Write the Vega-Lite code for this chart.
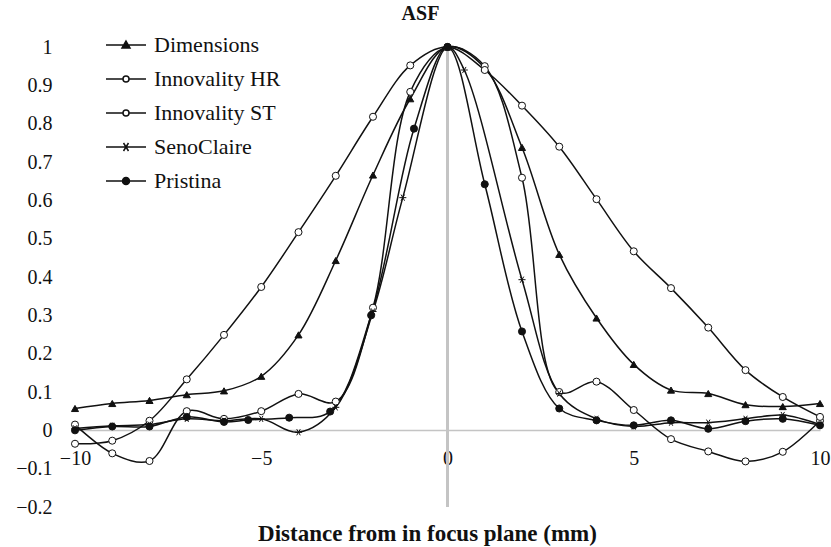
{
  "$schema": "https://vega.github.io/schema/vega-lite/v6.json",
  "width": 745,
  "height": 460,
  "autosize": {"type": "none"},
  "padding": {"left": 75, "top": 47, "right": 11, "bottom": 40},
  "background": "white",
  "config": {"view": {"stroke": null}, "font": "Liberation Serif"},
  "title": {"text": "ASF", "font": "Liberation Serif", "fontSize": 20, "fontWeight": "bold", "color": "#111", "frame": "group", "anchor": "middle", "dx": -27, "dy": 25, "offset": 19, "baseline": "alphabetic"},
  "data": {"values": [
    {"s": "Dimensions", "x": -10, "y": 0.057}, {"s": "Dimensions", "x": -9, "y": 0.07}, {"s": "Dimensions", "x": -8, "y": 0.078}, {"s": "Dimensions", "x": -7, "y": 0.093}, {"s": "Dimensions", "x": -6, "y": 0.103}, {"s": "Dimensions", "x": -5, "y": 0.141}, {"s": "Dimensions", "x": -4, "y": 0.249}, {"s": "Dimensions", "x": -3, "y": 0.443}, {"s": "Dimensions", "x": -2, "y": 0.666}, {"s": "Dimensions", "x": -1, "y": 0.865}, {"s": "Dimensions", "x": 0, "y": 1.0}, {"s": "Dimensions", "x": 1, "y": 0.945}, {"s": "Dimensions", "x": 2, "y": 0.738}, {"s": "Dimensions", "x": 3, "y": 0.459}, {"s": "Dimensions", "x": 4, "y": 0.293}, {"s": "Dimensions", "x": 5, "y": 0.172}, {"s": "Dimensions", "x": 6, "y": 0.105}, {"s": "Dimensions", "x": 7, "y": 0.096}, {"s": "Dimensions", "x": 8, "y": 0.067}, {"s": "Dimensions", "x": 9, "y": 0.062}, {"s": "Dimensions", "x": 10, "y": 0.07},
    {"s": "Innovality HR", "x": -10, "y": 0.015}, {"s": "Innovality HR", "x": -9, "y": -0.06}, {"s": "Innovality HR", "x": -8, "y": -0.08}, {"s": "Innovality HR", "x": -7, "y": 0.05}, {"s": "Innovality HR", "x": -6, "y": 0.03}, {"s": "Innovality HR", "x": -5, "y": 0.05}, {"s": "Innovality HR", "x": -4, "y": 0.095}, {"s": "Innovality HR", "x": -3, "y": 0.075}, {"s": "Innovality HR", "x": -2, "y": 0.32}, {"s": "Innovality HR", "x": -1, "y": 0.883}, {"s": "Innovality HR", "x": 0, "y": 1.0}, {"s": "Innovality HR", "x": 1, "y": 0.95}, {"s": "Innovality HR", "x": 2, "y": 0.659}, {"s": "Innovality HR", "x": 3, "y": 0.1}, {"s": "Innovality HR", "x": 4, "y": 0.127}, {"s": "Innovality HR", "x": 5, "y": 0.053}, {"s": "Innovality HR", "x": 6, "y": -0.023}, {"s": "Innovality HR", "x": 7, "y": -0.055}, {"s": "Innovality HR", "x": 8, "y": -0.081}, {"s": "Innovality HR", "x": 9, "y": -0.056}, {"s": "Innovality HR", "x": 10, "y": 0.025},
    {"s": "Innovality ST", "x": -10, "y": -0.035}, {"s": "Innovality ST", "x": -9, "y": -0.027}, {"s": "Innovality ST", "x": -8, "y": 0.025}, {"s": "Innovality ST", "x": -7, "y": 0.133}, {"s": "Innovality ST", "x": -6, "y": 0.249}, {"s": "Innovality ST", "x": -5, "y": 0.374}, {"s": "Innovality ST", "x": -4, "y": 0.517}, {"s": "Innovality ST", "x": -3, "y": 0.664}, {"s": "Innovality ST", "x": -2, "y": 0.818}, {"s": "Innovality ST", "x": -1, "y": 0.952}, {"s": "Innovality ST", "x": 0, "y": 1.0}, {"s": "Innovality ST", "x": 1, "y": 0.94}, {"s": "Innovality ST", "x": 2, "y": 0.847}, {"s": "Innovality ST", "x": 3, "y": 0.74}, {"s": "Innovality ST", "x": 4, "y": 0.603}, {"s": "Innovality ST", "x": 5, "y": 0.467}, {"s": "Innovality ST", "x": 6, "y": 0.371}, {"s": "Innovality ST", "x": 7, "y": 0.268}, {"s": "Innovality ST", "x": 8, "y": 0.157}, {"s": "Innovality ST", "x": 9, "y": 0.087}, {"s": "Innovality ST", "x": 10, "y": 0.035},
    {"s": "SenoClaire", "x": -10, "y": 0.005}, {"s": "SenoClaire", "x": -9, "y": 0.012}, {"s": "SenoClaire", "x": -8, "y": 0.015}, {"s": "SenoClaire", "x": -7, "y": 0.03}, {"s": "SenoClaire", "x": -6, "y": 0.025}, {"s": "SenoClaire", "x": -5, "y": 0.03}, {"s": "SenoClaire", "x": -4, "y": -0.005}, {"s": "SenoClaire", "x": -3, "y": 0.06}, {"s": "SenoClaire", "x": -2, "y": 0.31}, {"s": "SenoClaire", "x": -1.2, "y": 0.607}, {"s": "SenoClaire", "x": 0, "y": 1.0}, {"s": "SenoClaire", "x": 0.45, "y": 0.94}, {"s": "SenoClaire", "x": 2, "y": 0.393}, {"s": "SenoClaire", "x": 3, "y": 0.096}, {"s": "SenoClaire", "x": 4, "y": 0.03}, {"s": "SenoClaire", "x": 5, "y": 0.01}, {"s": "SenoClaire", "x": 6, "y": 0.02}, {"s": "SenoClaire", "x": 7, "y": 0.02}, {"s": "SenoClaire", "x": 8, "y": 0.03}, {"s": "SenoClaire", "x": 9, "y": 0.04}, {"s": "SenoClaire", "x": 10, "y": 0.015},
    {"s": "Pristina", "x": -10, "y": 0.0}, {"s": "Pristina", "x": -9, "y": 0.01}, {"s": "Pristina", "x": -8, "y": 0.01}, {"s": "Pristina", "x": -7, "y": 0.035}, {"s": "Pristina", "x": -6, "y": 0.022}, {"s": "Pristina", "x": -5.35, "y": 0.027}, {"s": "Pristina", "x": -4.25, "y": 0.033}, {"s": "Pristina", "x": -3.15, "y": 0.049}, {"s": "Pristina", "x": -2.05, "y": 0.3}, {"s": "Pristina", "x": -0.9, "y": 0.787}, {"s": "Pristina", "x": 0, "y": 1.0}, {"s": "Pristina", "x": 1, "y": 0.642}, {"s": "Pristina", "x": 2, "y": 0.258}, {"s": "Pristina", "x": 3, "y": 0.057}, {"s": "Pristina", "x": 4, "y": 0.026}, {"s": "Pristina", "x": 5, "y": 0.013}, {"s": "Pristina", "x": 6, "y": 0.026}, {"s": "Pristina", "x": 7, "y": 0.004}, {"s": "Pristina", "x": 8, "y": 0.024}, {"s": "Pristina", "x": 9, "y": 0.03}, {"s": "Pristina", "x": 10, "y": 0.013}
  ]},
  "layer": [
    {
      "mark": {"type": "rule", "color": "#c4c4c4", "strokeWidth": 1.5},
      "encoding": {"x": {"datum": 0, "type": "quantitative", "scale": {"domain": [-10, 10], "nice": false},
          "axis": {"values": [-10, -5, 0, 5, 10], "format": "d", "offset": -77, "domain": true, "domainColor": "#c4c4c4", "domainWidth": 1.5, "ticks": false, "grid": false, "labelFont": "Liberation Serif", "labelFontSize": 20, "labelColor": "#111", "labelPadding": 28, "labelBaseline": "middle", "labelFlush": false, "labelOverlap": false, "title": "Distance from in focus plane (mm)", "titleFont": "Liberation Serif", "titleFontSize": 23, "titleFontWeight": "bold", "titleColor": "#111", "titleX": 352, "titleY": 103, "titleBaseline": "middle", "titleAlign": "center"}}}
    },
    {
      "mark": {"type": "line", "interpolate": "catmull-rom", "color": "#111", "strokeWidth": 1.5},
      "encoding": {
        "x": {"field": "x", "type": "quantitative", "scale": {"domain": [-10, 10], "nice": false},
          "axis": {"values": [-10, -5, 0, 5, 10], "format": "d", "offset": -77, "domain": true, "domainColor": "#c4c4c4", "domainWidth": 1.5, "ticks": false, "grid": false, "labelFont": "Liberation Serif", "labelFontSize": 20, "labelColor": "#111", "labelPadding": 28, "labelBaseline": "middle", "labelFlush": false, "labelOverlap": false, "title": "Distance from in focus plane (mm)", "titleFont": "Liberation Serif", "titleFontSize": 23, "titleFontWeight": "bold", "titleColor": "#111", "titleX": 352, "titleY": 103, "titleBaseline": "middle", "titleAlign": "center"}},
        "y": {"field": "y", "type": "quantitative", "scale": {"domain": [-0.2, 1], "nice": false, "zero": false},
          "axis": {"values": [-0.2, -0.1, 0, 0.1, 0.2, 0.3, 0.4, 0.5, 0.6, 0.7, 0.8, 0.9, 1], "format": ".1~f", "domain": false, "ticks": false, "grid": false, "title": null, "labelFont": "Liberation Serif", "labelFontSize": 20, "labelColor": "#111", "labelPadding": 23, "labelOverlap": false}},
        "detail": {"field": "s"}
      }
    },
    {
      "mark": {"type": "point", "filled": true, "stroke": "#111", "strokeWidth": 1, "size": 50, "opacity": 1},
      "encoding": {
        "x": {"field": "x", "type": "quantitative",
          "axis": {"values": [-10, -5, 0, 5, 10], "format": "d", "offset": -77, "domain": true, "domainColor": "#c4c4c4", "domainWidth": 1.5, "ticks": false, "grid": false, "labelFont": "Liberation Serif", "labelFontSize": 20, "labelColor": "#111", "labelPadding": 28, "labelBaseline": "middle", "labelFlush": false, "labelOverlap": false, "title": "Distance from in focus plane (mm)", "titleFont": "Liberation Serif", "titleFontSize": 23, "titleFontWeight": "bold", "titleColor": "#111", "titleX": 352, "titleY": 103, "titleBaseline": "middle", "titleAlign": "center"}},
        "y": {"field": "y", "type": "quantitative",
          "axis": {"values": [-0.2, -0.1, 0, 0.1, 0.2, 0.3, 0.4, 0.5, 0.6, 0.7, 0.8, 0.9, 1], "format": ".1~f", "domain": false, "ticks": false, "grid": false, "title": null, "labelFont": "Liberation Serif", "labelFontSize": 20, "labelColor": "#111", "labelPadding": 23, "labelOverlap": false}},
        "shape": {"field": "s", "scale": {"domain": ["Dimensions", "Innovality HR", "Innovality ST", "SenoClaire", "Pristina"], "range": ["triangle-up", "circle", "circle", "M-1,0L1,0M-0.5,-0.87L0.5,0.87M-0.5,0.87L0.5,-0.87", "circle"]}, "legend": null},
        "fill": {"field": "s", "scale": {"domain": ["Dimensions", "Innovality HR", "Innovality ST", "SenoClaire", "Pristina"], "range": ["#111", "white", "white", "#111", "#111"]}, "legend": null}
      }
    },
    {
      "transform": [{"filter": "datum.x > 100"}],
      "mark": {"type": "point", "filled": true, "strokeWidth": 1.5, "opacity": 1},
      "encoding": {
        "x": {"field": "x", "type": "quantitative",
          "axis": {"values": [-10, -5, 0, 5, 10], "format": "d", "offset": -77, "domain": true, "domainColor": "#c4c4c4", "domainWidth": 1.5, "ticks": false, "grid": false, "labelFont": "Liberation Serif", "labelFontSize": 20, "labelColor": "#111", "labelPadding": 28, "labelBaseline": "middle", "labelFlush": false, "labelOverlap": false, "title": "Distance from in focus plane (mm)", "titleFont": "Liberation Serif", "titleFontSize": 23, "titleFontWeight": "bold", "titleColor": "#111", "titleX": 352, "titleY": 103, "titleBaseline": "middle", "titleAlign": "center"}},
        "y": {"field": "y", "type": "quantitative",
          "axis": {"values": [-0.2, -0.1, 0, 0.1, 0.2, 0.3, 0.4, 0.5, 0.6, 0.7, 0.8, 0.9, 1], "format": ".1~f", "domain": false, "ticks": false, "grid": false, "title": null, "labelFont": "Liberation Serif", "labelFontSize": 20, "labelColor": "#111", "labelPadding": 23, "labelOverlap": false}},
        "shape": {"field": "s", "scale": {"domain": ["Dimensions", "Innovality HR", "Innovality ST", "SenoClaire", "Pristina"], "range": ["M-2,0L2,0M0,-0.4L0.4,0.3L-0.4,0.3Z", "M-2,0L-0.3,0M0.3,0L2,0M-0.3,0A0.3,0.3,0,1,0,0.3,0A0.3,0.3,0,1,0,-0.3,0Z", "M-2,0L-0.3,0M0.3,0L2,0M-0.3,0A0.3,0.3,0,1,0,0.3,0A0.3,0.3,0,1,0,-0.3,0Z", "M-2,0L2,0M-0.25,-0.4L0.25,0.4M-0.25,0.4L0.25,-0.4", "M-2,0L2,0M-0.35,0A0.35,0.35,0,1,0,0.35,0A0.35,0.35,0,1,0,-0.35,0Z"]},
          "legend": {"orient": "none", "legendX": 40, "legendY": -13, "title": null, "symbolSize": 400, "symbolStrokeWidth": 1.5, "symbolOpacity": 1, "labelFont": "Liberation Serif", "labelFontSize": 22, "labelColor": "#111", "labelOffset": 17, "rowPadding": 12, "padding": 0, "labelLimit": 300}},
        "fill": {"field": "s", "scale": {"domain": ["Dimensions", "Innovality HR", "Innovality ST", "SenoClaire", "Pristina"], "range": ["#111", "white", "white", "#111", "#111"]},
          "legend": {"orient": "none", "legendX": 40, "legendY": -13, "title": null, "symbolSize": 400, "symbolStrokeWidth": 1.5, "symbolOpacity": 1, "labelFont": "Liberation Serif", "labelFontSize": 22, "labelColor": "#111", "labelOffset": 17, "rowPadding": 12, "padding": 0, "labelLimit": 300}},
        "stroke": {"field": "s", "scale": {"domain": ["Dimensions", "Innovality HR", "Innovality ST", "SenoClaire", "Pristina"], "range": ["#111", "#111", "#111", "#111", "#111"]},
          "legend": {"orient": "none", "legendX": 40, "legendY": -13, "title": null, "symbolSize": 400, "symbolStrokeWidth": 1.5, "symbolOpacity": 1, "labelFont": "Liberation Serif", "labelFontSize": 22, "labelColor": "#111", "labelOffset": 17, "rowPadding": 12, "padding": 0, "labelLimit": 300}}
      }
    }
  ],
  "resolve": {"scale": {"shape": "independent", "fill": "independent", "stroke": "independent"}}
}
